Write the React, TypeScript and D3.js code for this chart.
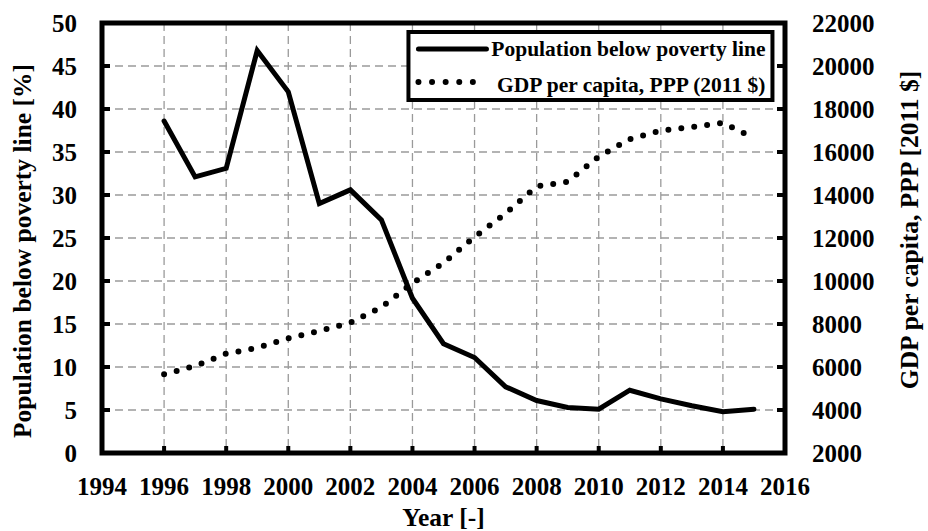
import React from 'react';
import * as d3 from 'd3';

// Values
const YEARS = [1996, 1997, 1998, 1999, 2000, 2001, 2002, 2003, 2004, 2005, 2006, 2007, 2008, 2009, 2010, 2011, 2012, 2013, 2014, 2015];
const POVERTY = [38.6, 32.1, 33.1, 46.8, 42.0, 29.0, 30.6, 27.1, 18.0, 12.7, 11.1, 7.7, 6.1, 5.3, 5.1, 7.3, 6.3, 5.5, 4.8, 5.1];
const GDP = [5660, 6050, 6620, 6890, 7330, 7680, 8060, 8780, 9900, 10840, 12050, 13140, 14400, 14620, 15790, 16600, 16990, 17160, 17350, 16650];
const X_TICKS = d3.range(1994, 2017, 2);
const LEFT_TICKS = d3.range(0, 51, 5);
const RIGHT_TICKS = d3.range(2000, 22001, 2000);
const LEGEND_LABELS = ['Population below poverty line', 'GDP per capita, PPP (2011 $)'];

const width = 928;
const height = 531;
const margin = { top: 23, right: 143, bottom: 78, left: 102 };
const innerWidth = width - margin.left - margin.right;
const innerHeight = height - margin.top - margin.bottom;

// text props set on each text node
const T = { fontFamily: 'Liberation Serif', fontWeight: 'bold' as const, fill: '#000' };

export default function App() {
  const x = d3.scaleLinear().domain([1994, 2016]).range([0, innerWidth]);
  const yLeft = d3.scaleLinear().domain([0, 50]).range([innerHeight, 0]);
  const yRight = d3.scaleLinear().domain([2000, 22000]).range([innerHeight, 0]);

  const povLine = d3.line<number>().x((_d, i) => x(YEARS[i])).y(d => yLeft(d));
  const gdpLine = d3.line<number>().x((_d, i) => x(YEARS[i])).y(d => yRight(d));

  const grid = { stroke: '#9a9a9a', strokeWidth: 1.3, strokeDasharray: '8,5' };
  const legendX = x(2004) - 4;

  return (
    <svg width={width} height={height} style={{ position: 'absolute', left: 0, top: 0 }}>
      <text x={margin.left + innerWidth / 2} y={526} textAnchor="middle" fontSize={25.5} {...T}>Year [-]</text>
      <text transform="translate(31,251) rotate(-90)" textAnchor="middle" fontSize={25.5} {...T}>
        Population below poverty line [%]
      </text>
      <text transform="translate(918,230) rotate(-90)" textAnchor="middle" fontSize={25.5} {...T}>
        GDP per capita, PPP [2011 $]
      </text>
      <g transform={`translate(${margin.left},${margin.top})`}>
        {X_TICKS.slice(1, -1).map(d => (
          <line key={`gx${d}`} x1={x(d)} x2={x(d)} y1={0} y2={innerHeight} {...grid} />
        ))}
        {LEFT_TICKS.slice(1, -1).map(d => (
          <line key={`gy${d}`} x1={0} x2={innerWidth} y1={yLeft(d)} y2={yLeft(d)} {...grid} />
        ))}

        <path d={gdpLine(GDP) || ''} fill="none" stroke="#000" strokeWidth={6}
          strokeLinecap="round" strokeDasharray="0,13" />
        <path d={povLine(POVERTY) || ''} fill="none" stroke="#000" strokeWidth={5} strokeLinecap="round" />

        <rect width={innerWidth} height={innerHeight} fill="none" stroke="#000" strokeWidth={5} />

        {X_TICKS.map(d => (
          <g key={`xt${d}`} transform={`translate(${x(d)},0)`}>
            <line y1={innerHeight} y2={innerHeight - 7} stroke="#000" strokeWidth={4} />
            <text y={innerHeight + 42} textAnchor="middle" fontSize={25} {...T}>{d}</text>
          </g>
        ))}

        {LEFT_TICKS.map(d => (
          <g key={`yl${d}`} transform={`translate(0,${yLeft(d)})`}>
            <line x1={0} x2={8} stroke="#000" strokeWidth={4} />
            <text x={-25} y={8.5} textAnchor="end" fontSize={25} {...T}>{d}</text>
          </g>
        ))}

        {RIGHT_TICKS.map(d => (
          <g key={`yr${d}`} transform={`translate(${innerWidth},${yRight(d)})`}>
            <line x1={0} x2={-8} stroke="#000" strokeWidth={4} />
            <text x={27} y={8.5} textAnchor="start" fontSize={25} {...T}>{d}</text>
          </g>
        ))}

        <g transform={`translate(${legendX},9)`}>
          <rect width={364} height={68} fill="#fff" stroke="#000" strokeWidth={4} />
          <line x1={10} x2={78} y1={17} y2={17} stroke="#000" strokeWidth={5} strokeLinecap="round" />
          <line x1={10} x2={78} y1={50} y2={50} stroke="#000" strokeWidth={6} strokeLinecap="round"
            strokeDasharray="0,13.6" />
          {LEGEND_LABELS.map((t, i) => (
            <text key={t} x={357} y={24 + i * 36} textAnchor="end" fontSize={21.5} {...T}>{t}</text>
          ))}
        </g>
      </g>
    </svg>
  );
}
